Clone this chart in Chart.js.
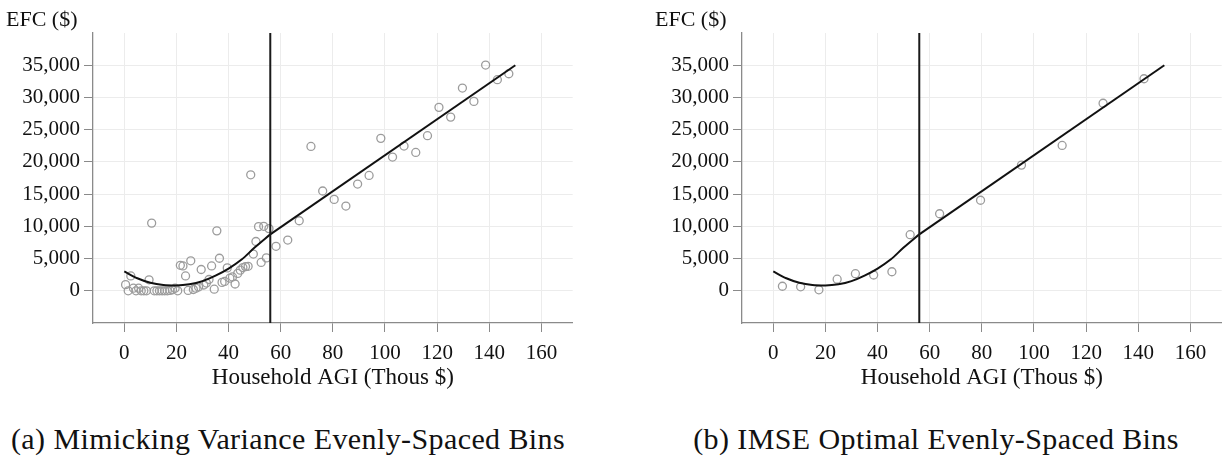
<!DOCTYPE html>
<html><head><meta charset="utf-8">
<script src="https://cdn.jsdelivr.net/npm/chart.js@4"></script>
<style>
html,body{margin:0;padding:0;background:#fff;width:1225px;height:461px;overflow:hidden;position:relative;font-family:"Liberation Serif",serif;}
.wrap{position:absolute;top:0;width:578px;height:400px;}
#w1{left:0}
#w2{left:649px}
.ylab{position:absolute;top:8px;font-size:22px;line-height:1;color:#111;white-space:nowrap;}
.cap{position:absolute;top:424px;font-size:30px;line-height:1;letter-spacing:0.4px;color:#111;white-space:nowrap;transform:translateX(-50%);}
</style></head>
<body>
<div class="wrap" id="w1"><canvas id="c1"></canvas></div>
<div class="wrap" id="w2"><canvas id="c2"></canvas></div>
<div class="ylab" style="left:6px">EFC ($)</div>
<div class="ylab" style="left:655px">EFC ($)</div>
<div class="cap" style="left:288px">(a) Mimicking Variance Evenly-Spaced Bins</div>
<div class="cap" style="left:936px">(b) IMSE Optimal Evenly-Spaced Bins</div>
<script>
// ---- data ----
const xTicks = [0, 20, 40, 60, 80, 100, 120, 140, 160];
const yTicks = [0, 5000, 10000, 15000, 20000, 25000, 30000, 35000];
const cutoff = 56;

// Panel (a): bin means
const aBinX = [0.5,1.5,2.5,3.5,4.5,5.5,6.5,7.5,8.5,9.5,10.5,11.5,12.5,13.5,14.5,15.5,16.5,17.5,18.5,19.5,
  20.5,21.5,22.5,23.5,24.5,25.5,26.5,27.5,28.5,29.5,30.5,31.5,32.5,33.5,34.5,35.5,36.5,37.5,38.5,39.5,
  40.5,41.5,42.5,43.5,44.5,45.5,46.5,47.5,48.5,49.5,50.5,51.5,52.5,53.5,54.5,55.5,
  58.2,62.7,67.1,71.6,76.1,80.5,85.0,89.5,93.9,98.4,102.9,107.3,111.8,116.3,120.7,125.2,129.7,134.1,138.6,143.1,147.5];
const aBinY = [950,0,2300,400,0,400,0,0,0,1700,10500,0,0,0,0,0,0,50,150,400,
  0,3950,3850,2300,50,4650,200,400,600,3300,900,1200,1750,3850,250,9300,5050,1300,1450,3550,
  1950,2150,1050,2700,3200,3600,3750,3800,18000,5700,7650,9950,4400,10000,5100,9650,
  6900,7870,10870,22400,15480,14180,13150,16560,17900,23650,20750,22460,21470,24060,28460,26950,31460,29390,35030,32750,33680];

// Panel (b): bin means
const bBinX = [3.5,10.5,17.5,24.5,31.5,38.5,45.5,52.5,63.8,79.5,95.2,110.8,126.5,142.2];
const bBinY = [700,620,150,1800,2650,2450,2950,8700,11950,14050,19500,22550,29100,32900];

// Fitted regression function (same in both panels)
const curveX = [0,5,10,15,20,25,30,35,40,45,50,56];
const curveY = [3000,1950,1250,900,830,1000,1500,2350,3450,4850,6700,8750];
const lineX = [56,150];
const lineY = [8750,35000];
const vlineY = [-5000,40000];

// ---- chart building ----
const FONT = '"Liberation Serif", serif';
const pts = (xs, ys) => xs.map((x, i) => ({x: x, y: ys[i]}));

function makeChart(id, binX, binY) {
  return new Chart(document.getElementById(id), {
    type: 'scatter',
    data: {
      datasets: [
        {data: pts([cutoff, cutoff], vlineY), showLine: true, borderColor: '#1a1a1a', borderWidth: 2, pointRadius: 0, order: 0},
        {data: pts(curveX, curveY), showLine: true, cubicInterpolationMode: 'monotone', borderColor: '#111', borderWidth: 2, pointRadius: 0, order: 1},
        {data: pts(lineX, lineY), showLine: true, borderColor: '#111', borderWidth: 2, pointRadius: 0, order: 1},
        {data: pts(binX, binY), showLine: false, pointRadius: 4, pointBorderWidth: 1.3, pointBorderColor: '#9c9c9c', pointBackgroundColor: 'rgba(255,255,255,0)', order: 3}
      ]
    },
    options: {
      responsive: true, maintainAspectRatio: false, animation: false,
      layout: {padding: {left: 0, top: 33, right: 4, bottom: 8}},
      plugins: {legend: {display: false}, tooltip: {enabled: false}},
      scales: {
        x: {
          type: 'linear', min: -12, max: 172,
          afterBuildTicks: a => { a.ticks = xTicks.map(v => ({value: v})); },
          afterFit: s => { s.height = 69; },
          grid: {color: '#ececec', lineWidth: 1, tickColor: '#8a8a8a', tickLength: 9, drawOnChartArea: true},
          border: {color: '#8a8a8a', width: 1.3},
          ticks: {color: '#111', font: {family: FONT, size: 21}, padding: 9, maxRotation: 0, autoSkip: false},
          title: {display: true, text: 'Household AGI (Thous $)', color: '#111', font: {family: FONT, size: 23}, padding: 0}
        },
        y: {
          type: 'linear', min: -5000, max: 40000,
          afterBuildTicks: a => { a.ticks = yTicks.map(v => ({value: v})); },
          afterFit: s => { s.width = 93; },
          grid: {color: '#ececec', lineWidth: 1, tickColor: '#8a8a8a', tickLength: 9},
          border: {color: '#8a8a8a', width: 1.3},
          ticks: {color: '#111', font: {family: FONT, size: 21}, padding: 4, autoSkip: false,
            callback: v => Number(v).toLocaleString('en-US')}
        }
      }
    }
  });
}
makeChart('c1', aBinX, aBinY);
makeChart('c2', bBinX, bBinY);
</script>
</body></html>
